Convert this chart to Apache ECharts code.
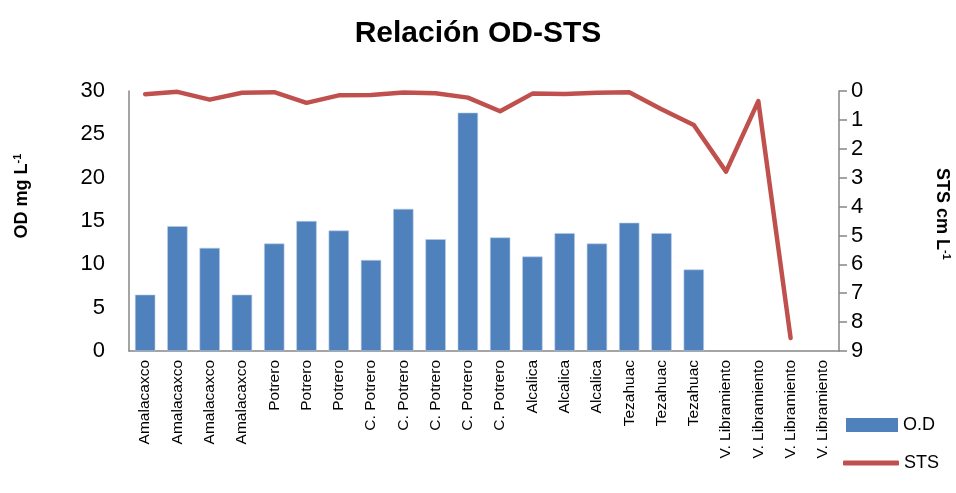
<!DOCTYPE html>
<html><head><meta charset="utf-8">
<script src="https://cdn.jsdelivr.net/npm/echarts@6/dist/echarts.min.js"></script>
<style>html,body{margin:0;padding:0;background:#fff}#c{width:956px;height:493px}</style>
</head><body><div id="c"></div>
<script>
const categories = ['Amalacaxco','Amalacaxco','Amalacaxco','Amalacaxco','Potrero','Potrero','Potrero','C. Potrero','C. Potrero','C. Potrero','C. Potrero','C. Potrero','Alcalica','Alcalica','Alcalica','Tezahuac','Tezahuac','Tezahuac','V. Libramiento','V. Libramiento','V. Libramiento','V. Libramiento'];
const odValues = [6.5,14.4,11.9,6.5,12.4,15.0,13.9,10.5,16.4,12.9,27.5,13.1,10.9,13.6,12.4,14.8,13.6,9.4,null,null,null,null];
const stsValues = [0.11,0.03,0.3,0.06,0.04,0.41,0.15,0.14,0.05,0.08,0.23,0.7,0.09,0.1,0.06,0.04,0.63,1.18,2.79,0.35,8.55,null];
const leftTicks = {min:0,max:30,interval:5};
const rightTicks = {min:0,max:9,interval:1};
const FONT = "'Liberation Sans', Arial, sans-serif";
const rich = {a:{fontFamily:FONT,fontSize:18,fontWeight:'bold',fill:'#000',color:'#000'},b:{fontFamily:FONT,fontSize:11,fontWeight:'bold',fill:'#000',color:'#000',padding:[0,0,9,0]}};
const chart = echarts.init(document.getElementById('c'));
chart.setOption({
  animation:false,
  textStyle:{fontFamily:FONT,color:'#000'},
  title:{text:'Relación OD-STS',left:'center',top:14,textStyle:{fontFamily:FONT,fontSize:30,fontWeight:'bold',color:'#000'}},
  grid:{left:129,right:117,top:91,bottom:142},
  legend:[
    {data:[{name:'O.D',icon:'rect',itemStyle:{borderWidth:0}}],left:841,top:411,itemWidth:52,itemHeight:14,textStyle:{fontFamily:FONT,fontSize:18,color:'#000'}},
    {data:[{name:'STS',icon:'roundRect'}],left:838,top:449,itemWidth:56,itemHeight:5,textStyle:{fontFamily:FONT,fontSize:18,color:'#000'}}
  ],
  graphic:[
    {type:'text',x:22,y:196,rotation:Math.PI/2,style:{text:'{a|OD mg L}{b|-1}',rich:rich,align:'center',verticalAlign:'middle'}},
    {type:'text',x:942,y:214,rotation:-Math.PI/2,style:{text:'{a|STS cm L}{b|-1}',rich:rich,align:'center',verticalAlign:'middle'}}
  ],
  xAxis:{type:'category',data:categories,
    axisLine:{lineStyle:{color:'#868686',width:1.5}},axisTick:{show:false},
    axisLabel:{rotate:90,interval:0,fontFamily:FONT,fontSize:15.5,color:'#000',margin:9}},
  yAxis:[
    {type:'value',min:leftTicks.min,max:leftTicks.max,interval:leftTicks.interval,
     axisLine:{show:true,lineStyle:{color:'#868686',width:1.5}},axisTick:{show:false},
     splitLine:{show:false},axisLabel:{fontFamily:FONT,fontSize:22,color:'#000',margin:24}},
    {type:'value',min:rightTicks.min,max:rightTicks.max,interval:rightTicks.interval,inverse:true,
     axisLine:{show:true,lineStyle:{color:'#868686',width:1.5}},axisTick:{show:true,length:8,lineStyle:{color:'#868686',width:1.5}},
     splitLine:{show:false},axisLabel:{fontFamily:FONT,fontSize:22,color:'#000',margin:12}}
  ],
  series:[
    {name:'O.D',type:'bar',data:odValues,yAxisIndex:0,barCategoryGap:'37%',
     itemStyle:{color:'#4F81BD',borderColor:'#B9CDE5',borderWidth:0.6}},
    {name:'STS',type:'line',data:stsValues,yAxisIndex:1,symbol:'none',
     lineStyle:{color:'#C0504D',width:4.5,cap:'round',join:'round'},itemStyle:{color:'#C0504D'}}
  ]
});
</script></body></html>
